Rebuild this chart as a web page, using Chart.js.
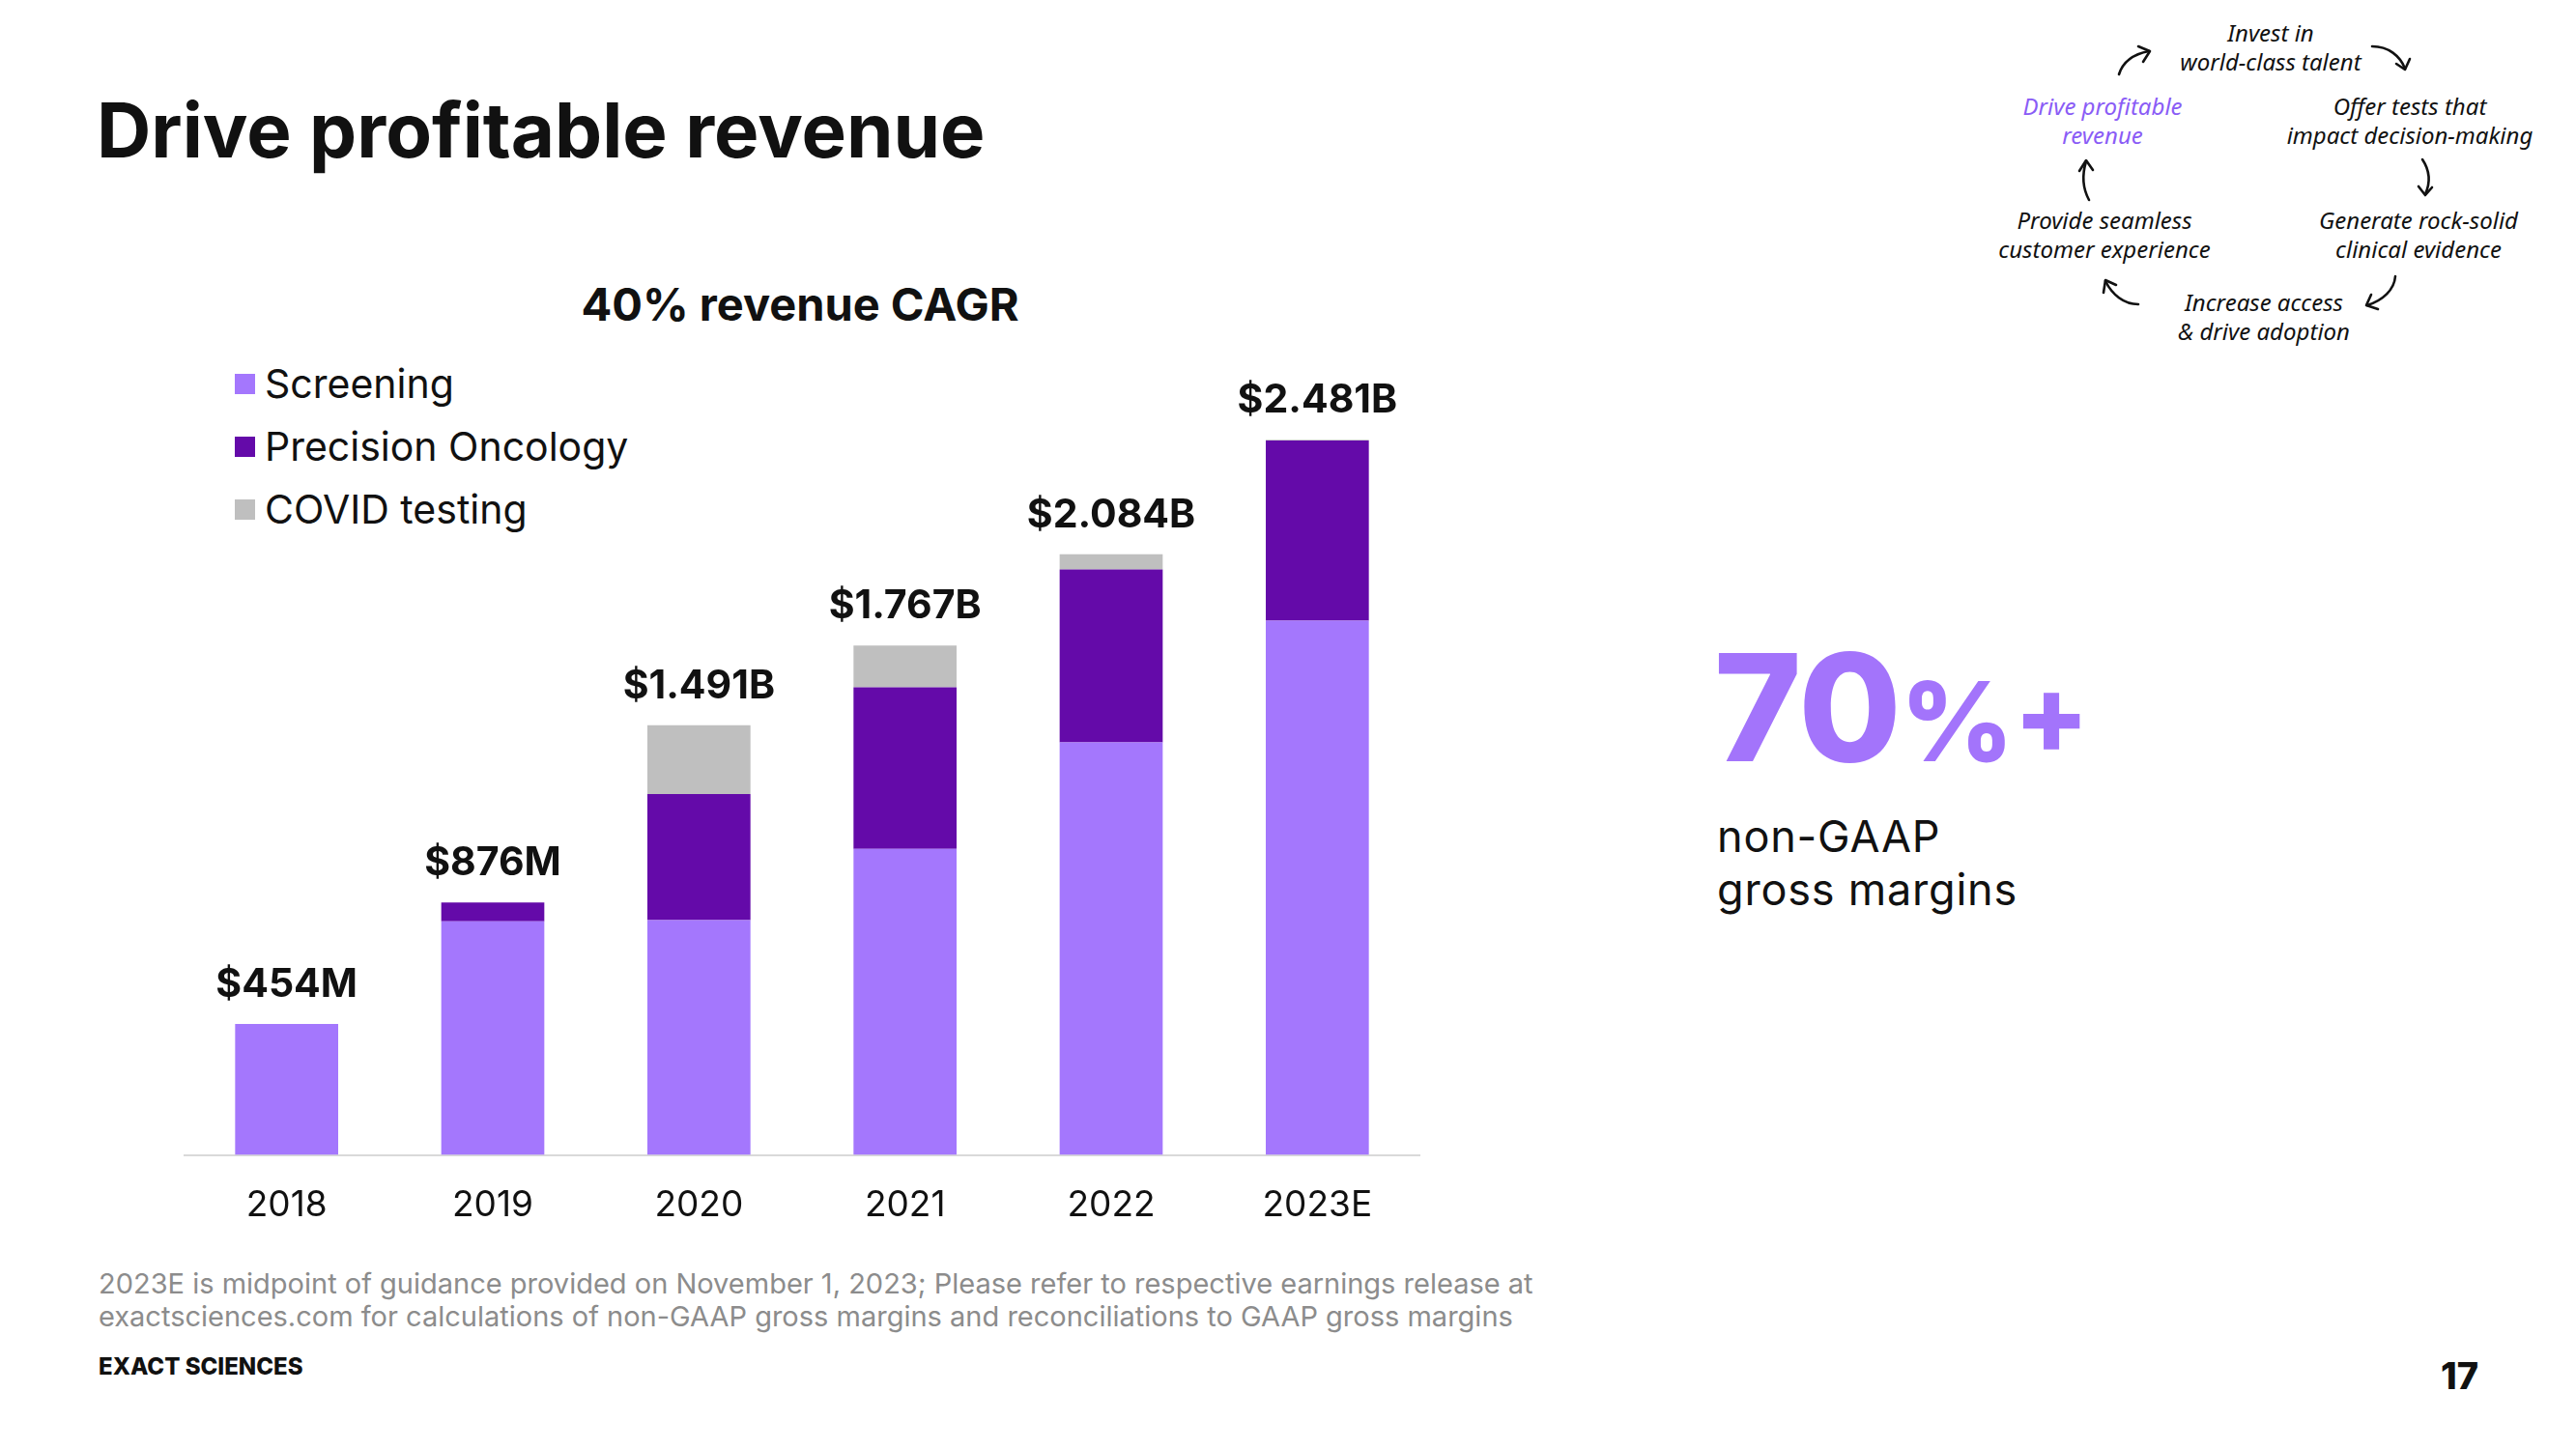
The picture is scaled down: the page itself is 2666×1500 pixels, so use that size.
<!DOCTYPE html>
<html>
<head>
<meta charset="utf-8">
<script src="https://cdn.jsdelivr.net/npm/chart.js@4.4.0/dist/chart.umd.min.js"></script>
<style>
  html, body { margin: 0; padding: 0; background: #fff; }
  body { width: 2666px; height: 1500px; position: relative; overflow: hidden; font-family: Inter, 'Open Sans', sans-serif; color: #111; }
  .abs { position: absolute; white-space: nowrap; line-height: 1; }
  #title { left: 100px; top: 96px; font-size: 78px; font-weight: 700; }
  #subtitle { left: 828px; top: 291px; transform: translateX(-50%); font-size: 47px; font-weight: 700; }
  #legend { left: 243px; top: 365px; }
  .leg { display: flex; align-items: center; height: 65px; font-size: 41px; }
  .leg i { display: inline-block; width: 21px; height: 21px; margin-right: 10px; }
  #chartBox { position: absolute; left: 190px; top: 360px; width: 1280px; height: 932px; }
  #big { left: 1774px; top: 655px; color: #a374fb; font-weight: 800; }
  #big .n { font-size: 154px; letter-spacing: -1px; }
  #big .p { font-size: 114px; }
  #margins { left: 1777px; top: 838px; font-size: 45px; line-height: 55px; letter-spacing: 0.8px; }
  #foot { left: 102px; top: 1312px; font-size: 29px; color: #8c8c8c; line-height: 34px; }
  #brand { left: 102px; top: 1403px; font-size: 24px; font-weight: 800; }
  #page { left: 2526px; top: 1405px; font-size: 38px; font-weight: 800; }
  .hw { position: absolute; font-family: 'Noto Sans', sans-serif; font-style: italic; font-size: 24px; line-height: 30px; text-align: center; white-space: nowrap; transform: translateX(-50%); color: #111; }
  svg { position: absolute; left: 0; top: 0; }
</style>
</head>
<body>
<div id="title" class="abs">Drive profitable revenue</div>
<div id="subtitle" class="abs">40% revenue CAGR</div>
<div id="legend" class="abs"></div>
<div id="chartBox"><canvas id="revChart"></canvas></div>

<div id="big" class="abs"><span class="n">70</span><span class="p">%+</span></div>
<div id="margins" class="abs">non-GAAP<br>gross margins</div>

<div id="foot" class="abs">2023E is midpoint of guidance provided on November 1, 2023; Please refer to respective earnings release at<br>exactsciences.com for calculations of non-GAAP gross margins and reconciliations to GAAP gross margins</div>
<div id="brand" class="abs">EXACT SCIENCES</div>
<div id="page" class="abs">17</div>

<!-- flywheel in the top right corner -->
<div class="hw" style="left:2350px;top:19px;">Invest in<br>world-class talent</div>
<div class="hw" style="left:2176px;top:95px;color:#8a5cf6;">Drive profitable<br>revenue</div>
<div class="hw" style="left:2494px;top:95px;">Offer tests that<br>impact decision-making</div>
<div class="hw" style="left:2178px;top:213px;">Provide seamless<br>customer experience</div>
<div class="hw" style="left:2503px;top:213px;">Generate rock-solid<br>clinical evidence</div>
<div class="hw" style="left:2343px;top:298px;">Increase access<br>&amp; drive adoption</div>
<svg width="2666" height="400" viewBox="0 0 2666 400">
  <g fill="none" stroke="#111" stroke-width="2.6" stroke-linecap="round" stroke-linejoin="round">
    <path d="M2193 77 C2197 64 2208 56 2224 53"/><path d="M2213 48 L2225 53 L2218 64"/>
    <path d="M2455 48 C2472 48 2484 58 2489 71"/><path d="M2480 66 L2489 72 L2494 61"/>
    <path d="M2507 165 C2515 177 2515 190 2510 201"/><path d="M2503 193 L2510 202 L2517 194"/>
    <path d="M2479 286 C2478 300 2466 311 2450 316"/><path d="M2454 305 L2449 316 L2461 320"/>
    <path d="M2213 315 C2198 315 2186 305 2179 291"/><path d="M2177 303 L2179 290 L2190 295"/>
    <path d="M2162 207 C2155 194 2155 180 2159 167"/><path d="M2152 177 L2159 166 L2166 176"/>
  </g>
</svg>

<script>
// Revenue by segment, $M
const years = ['2018', '2019', '2020', '2021', '2022', '2023E'];
const screening = [454, 810, 815, 1062, 1431, 1853];
const precisionOncology = [0, 66, 437, 560, 600, 625];
const covidTesting = [0, 0, 239, 145, 53, 3];

const seriesNames = ['Screening', 'Precision Oncology', 'COVID testing'];
const seriesColors = ['#a477fd', '#640aa9', '#bfbfbf'];

const FONT = "Inter, 'Open Sans', sans-serif";

// legend built from the series
const legendEl = document.getElementById('legend');
seriesNames.forEach((name, i) => {
  const row = document.createElement('div');
  row.className = 'leg';
  row.innerHTML = '<i style="background:' + seriesColors[i] + '"></i>' + name;
  legendEl.appendChild(row);
});

function fmtTotal(v) {
  if (v < 1000) return '$' + v + 'M';
  return '$' + (v / 1000).toFixed(3) + 'B';
}

// totals above each stack
const totalsPlugin = {
  id: 'totals',
  afterDatasetsDraw(chart) {
    const ctx = chart.ctx;
    const xs = chart.scales.x, ys = chart.scales.y;
    ctx.save();
    ctx.font = '700 41px ' + FONT;
    ctx.fillStyle = '#111';
    ctx.textAlign = 'center';
    ctx.textBaseline = 'alphabetic';
    years.forEach((y, i) => {
      const total = screening[i] + precisionOncology[i] + covidTesting[i];
      ctx.fillText(fmtTotal(total), xs.getPixelForValue(i), ys.getPixelForValue(total) - 28);
    });
    ctx.restore();
  },
};

const ctx = document.getElementById('revChart');
new Chart(ctx, {
  type: 'bar',
  data: {
    labels: years,
    datasets: [screening, precisionOncology, covidTesting].map((d, i) => ({
      label: seriesNames[i],
      data: d,
      backgroundColor: seriesColors[i],
      borderWidth: 0,
      barPercentage: 0.5,
      categoryPercentage: 1,
    })),
  },
  options: {
    responsive: true,
    maintainAspectRatio: false,
    animation: false,
    layout: { padding: 0 },
    plugins: {
      legend: { display: false },
      tooltip: { enabled: false },
    },
    scales: {
      x: {
        stacked: true,
        grid: { display: false },
        border: { display: true, color: '#d9d9d9', width: 2 },
        ticks: { color: '#111', padding: 22, font: { size: 37, family: FONT } },
      },
      y: {
        stacked: true,
        display: false,
        min: 0,
        max: 2800,
      },
    },
  },
  plugins: [totalsPlugin],
});
</script>
</body>
</html>
